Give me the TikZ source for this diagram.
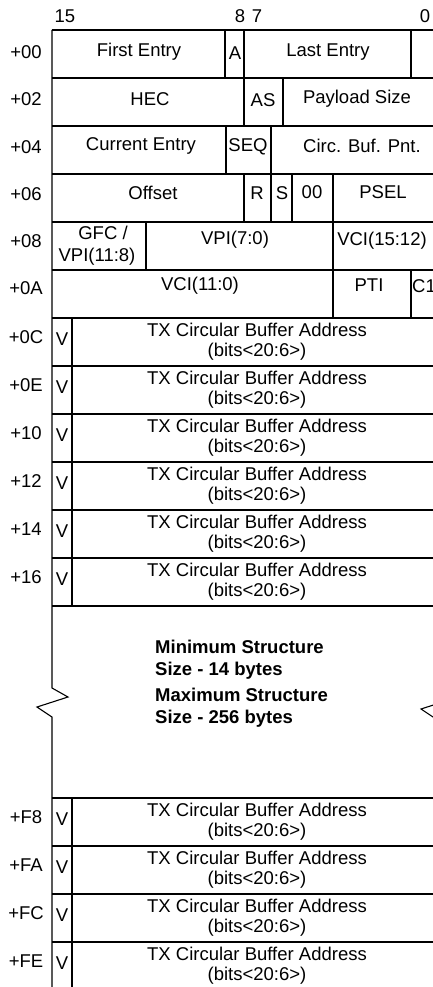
\documentclass[tikz,border=0pt]{standalone}
\usepackage{fontspec}
\setmainfont{Liberation Sans}
\begin{document}
\begin{tikzpicture}[x=1pt,y=-1pt,
  grid/.style={line width=1.1pt, line join=miter},
  heavy/.style={line width=2pt},
  txt/.style={font=\fontsize{18.5}{22}\selectfont, inner sep=0pt},
  boldtxt/.style={font=\fontsize{18.5}{22}\selectfont\bfseries, inner sep=0pt, align=left, anchor=west}]
\clip (0,0) rectangle (433,987);
\fill[white] (0,0) rectangle (433,987);
% horizontal lines
\foreach \y in {30,78,...,606} \draw[grid] (52,\y) -- (436,\y);
\foreach \y in {798,846,894,942} \draw[grid] (52,\y) -- (436,\y);
% outer sides with break marks
\draw[grid] (52,30) -- (52,688) -- (68,697) -- (37,707) -- (52,717) -- (52,995);
\draw[grid] (436,30) -- (436,690) -- (452,699) -- (421,709) -- (436,719) -- (436,995);
% inner dividers
\draw[grid] (225,30) -- (225,78);
\draw[heavy] (244,30) -- (244,126);
\draw[heavy] (411,30) rectangle (436,78);
\draw[grid] (283,78) -- (283,126);
\draw[grid] (226,126) -- (226,174);
\draw[grid] (271,126) -- (271,174);
\draw[grid] (244,174) -- (244,222);
\draw[grid] (271,174) -- (271,222);
\draw[grid] (292,174) -- (292,222);
\draw[grid] (333,174) -- (333,318);
\draw[grid] (146,222) -- (146,270);
\draw[grid] (411,270) -- (411,318);
\draw[grid] (72,318) -- (72,606);
\draw[grid] (72,798) -- (72,995);
% bit numbers
\node[txt] (b15) at (65,16) {15};
\node[txt] (b8) at (240,16) {8};
\node[txt] (b7) at (257,16) {7};
\node[txt] (b0) at (425,16) {0};
% offsets
\node[txt] (o00) at (26,52) {+00};
\node[txt] (o02) at (26,99) {+02};
\node[txt] (o04) at (26,147) {+04};
\node[txt] (o06) at (26,194) {+06};
\node[txt] (o08) at (26,241) {+08};
\node[txt] (o0A) at (26,288) {+0A};
% row +00
\node[txt] (firstentry) at (139,52) {First Entry};
\node[txt] (abit) at (235,53) {A};
\node[txt] (lastentry) at (328,52) {Last Entry};
% row +02
\node[txt] (hec) at (150,99) {HEC};
\node[txt] (as) at (263,100) {AS};
\node[txt] (payload) at (357,99) {Payload Size};
% row +04
\node[txt] (curentry) at (141,146) {Current Entry};
\node[txt] (seq) at (248,147) {SEQ};
\node[txt] (circ) at (362,146) {Circ. Buf. Pnt.};
% row +06
\node[txt] (offset) at (153,193) {Offset};
\node[txt] (rbit) at (257,193) {R};
\node[txt] (sbit) at (282,193) {S};
\node[txt] (zz) at (312,192) {00};
\node[txt] (psel) at (383,192) {PSEL};
% row +08
\node[txt] (gfc) at (103,233) {GFC /};
\node[txt] (vpihi) at (97,257) {VPI(11:8)};
\node[txt] (vpilo) at (235,240) {VPI(7:0)};
\node[txt] (vcihi) at (382,241) {VCI(15:12)};
% row +0A
\node[txt] (vcilo) at (200,286) {VCI(11:0)};
\node[txt] (pti) at (369,285) {PTI};
\node[txt, anchor=west] (clp) at (412,286) {C1};
% TX rows
\foreach \t/\l [count=\i] in {318/+0C,366/+0E,414/+10,462/+12,510/+14,558/+16,798/+F8,846/+FA,894/+FC,942/+FE}{
  \node[txt] (off\i) at (26,\t+19) {\l};
  \node[txt] (v\i) at (62,\t+21) {V};
  \node[txt] (tx\i) at (257,\t+12) {TX Circular Buffer Address};
  \node[txt] (bits\i) at (257,\t+34) {(bits<20:6>)};
}
% gap note
\node[boldtxt] (minsize) at (155,660) {Minimum Structure\\Size - 14 bytes};
\node[boldtxt] (maxsize) at (155,708) {Maximum Structure\\Size - 256 bytes};
\end{tikzpicture}
\end{document}
